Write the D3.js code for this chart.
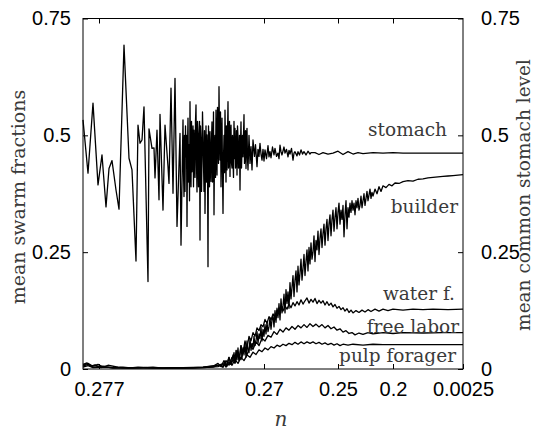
<!DOCTYPE html>
<html>
<head>
<meta charset="utf-8">
<script src="https://cdn.jsdelivr.net/npm/d3@7"></script>
<style>
  html, body { margin: 0; padding: 0; background: #fff; }
  svg { display: block; }
  .tick-num { font-family: "Liberation Sans", Arial, sans-serif; font-size: 20px; fill: #000; }
  .serif { font-family: "DejaVu Serif", serif; fill: #3a3a3a; }
</style>
</head>
<body>
<div id="chart"></div>
<script>
// x is the sample step (0..380), the axis labels give the value of n at chosen steps
const xTickSteps = [16, 181, 255, 310, 380];
const xTickLabels = ['0.277', '0.27', '0.25', '0.2', '0.0025'];
const yTicks = [0, 0.25, 0.5, 0.75];

const stomach = [
  [0,0.533],[5,0.419],[10,0.569],[15,0.394],[19,0.458],[23,0.347],[26,0.429],[29,0.446],
  [33,0.383],[36,0.342],[41,0.693],[46,0.451],[49,0.426],[53,0.231],[55,0.522],[57,0.483],
  [59,0.49],[61,0.561],[65,0.187],[66,0.514],[69,0.472],[71,0.473],[72,0.409],[74,0.511],
  [76,0.362],[77,0.545],[80,0.34],[82,0.522],[85,0.433],[86,0.397],[88,0.601],[90,0.376],
  [92,0.622],[94,0.305],[95,0.369],[97,0.504],[98,0.265],[100,0.533],[100.5,0.42],[101,0.369],
  [101.5,0.5],[102,0.38],[102.5,0.52],[103,0.454],[103.5,0.5],[104,0.305],[104.5,0.47],[105,0.537],
  [105.5,0.4],[106,0.48],[106.5,0.36],[107,0.572],[107.5,0.45],[108,0.39],[108.5,0.53],[109,0.422],
  [109.5,0.48],[110,0.52],[110.5,0.39],[111,0.511],[111.5,0.46],[112,0.41],[112.5,0.53],[113,0.565],
  [113.5,0.44],[114,0.379],[114.5,0.53],[115,0.5],[115.5,0.39],[116,0.476],[116.5,0.53],[117,0.276],
  [117.5,0.52],[118,0.49],[118.5,0.38],[119,0.447],[119.5,0.55],[120,0.497],[120.5,0.44],[121,0.38],
  [121.5,0.51],[122,0.333],[122.5,0.45],[123,0.52],[123.5,0.4],[124,0.501],[124.5,0.46],[125,0.219],
  [125.5,0.52],[126,0.47],[126.5,0.39],[127,0.508],[127.5,0.44],[128,0.401],[128.5,0.49],[129,0.529],
  [129.5,0.4],[130,0.42],[130.5,0.55],[131,0.33],[131.5,0.46],[132,0.5],[132.5,0.41],[133,0.554],
  [133.5,0.46],[134,0.415],[134.5,0.56],[135,0.52],[135.5,0.44],[136,0.604],[136.5,0.5],[137,0.447],
  [137.5,0.55],[138,0.39],[138.5,0.48],[139,0.537],[139.5,0.42],[140,0.333],[140.5,0.45],[141,0.5],
  [141.5,0.42],[142,0.554],[142.5,0.48],[143,0.4],[143.5,0.52],[144,0.426],[144.5,0.5],[145,0.572],
  [145.5,0.43],[146,0.45],[146.5,0.53],[147,0.412],[147.5,0.5],[148,0.522],[148.5,0.44],[149,0.43],
  [149.5,0.5],[150,0.447],[150.5,0.41],[151,0.53],[151.5,0.45],[152,0.515],[152.5,0.43],[153,0.44],
  [153.5,0.51],[154,0.415],[154.5,0.52],[155,0.497],[155.5,0.43],[156,0.45],[156.5,0.5],[157,0.383],
  [157.5,0.48],[158,0.529],[158.5,0.43],[159,0.47],[159.5,0.5],[160,0.454],[160.5,0.5],[161,0.544],
  [161.5,0.44],[162,0.46],[162.5,0.51],[163,0.429],[163.5,0.5],[164,0.515],[164.5,0.45],[165,0.426],
  [166,0.5],[167,0.44],[168,0.476],[169,0.426],[170,0.49],[171.5,0.455],[172.5,0.48],[174,0.433],
  [175,0.47],[176,0.455],[177,0.483],[178,0.46],[179,0.447],[180,0.47],[181,0.445],[182,0.469],
  [183.5,0.45],[185,0.478],[186,0.454],[187,0.465],[188,0.452],[189.5,0.475],[191,0.458],[192,0.472],
  [193.5,0.455],[195,0.462],[196,0.45],[197,0.479],[198,0.465],[199,0.458],[201,0.475],[202,0.462],
  [203.5,0.47],[205,0.454],[206,0.468],[207,0.46],[208.5,0.472],[210,0.447],[211,0.462],[212,0.465],
  [214,0.456],[215,0.465],[216.5,0.458],[218,0.469],[219.5,0.46],[221,0.465],[223,0.458],[225,0.466],
  [227,0.46],[228,0.463],[232,0.463],[236,0.459],[240,0.463],[245,0.46],[250,0.462],[255,0.466],
  [260,0.459],[265,0.465],[270,0.46],[275,0.463],[280,0.461],[290,0.463],[300,0.462],[310,0.463],
  [320,0.462],[340,0.462],[360,0.462],[380,0.462]
];

// builder: near zero, then a noisy rise sampled every step from 150 to 289, then a calmer tail
const builderHead = [
  [0,0.008],[5,0.012],[10,0.006],[15,0.01],[20,0.004],[30,0.003],[40,0.004],[50,0.002],
  [60,0.003],[70,0.004],[80,0.002],[90,0.003],[100,0.002],[110,0.003],[120,0.004],[130,0.006],
  [135,0.012],[138,0.005],[141,0.018],[143,0.006],[146,0.025],[148,0.01]
];
const builderNoisyStart = 150;
const builderNoisy = [
  0.02,0.035,0.015,0.04,0.02,0.045,0.018,0.03,0.05,0.025,
  0.045,0.03,0.055,0.025,0.06,0.04,0.035,0.065,0.04,0.055,
  0.045,0.07,0.05,0.06,0.08,0.055,0.075,0.065,0.09,0.06,
  0.085,0.07,0.095,0.075,0.1,0.08,0.09,0.11,0.085,0.105,
  0.115,0.09,0.125,0.1,0.13,0.11,0.14,0.105,0.15,0.12,
  0.135,0.16,0.12,0.17,0.14,0.165,0.13,0.185,0.15,0.175,
  0.2,0.155,0.19,0.21,0.165,0.22,0.18,0.205,0.235,0.19,
  0.215,0.245,0.2,0.23,0.255,0.21,0.26,0.225,0.27,0.235,
  0.25,0.285,0.23,0.275,0.255,0.295,0.245,0.28,0.3,0.26,
  0.29,0.31,0.265,0.3,0.32,0.275,0.31,0.33,0.285,0.32,
  0.34,0.295,0.325,0.345,0.3,0.335,0.355,0.31,0.34,0.32,
  0.35,0.283,0.33,0.36,0.3,0.345,0.325,0.355,0.335,0.36,
  0.34,0.355,0.33,0.36,0.345,0.365,0.34,0.35,0.37,0.345,
  0.36,0.375,0.35,0.365,0.38,0.36,0.372,0.385,0.365,0.378
];
const builderTail = [
  [290,0.37],[292,0.385],[294,0.375],[296,0.39],[298,0.38],[300,0.392],[303,0.388],[306,0.395],
  [309,0.392],[312,0.398],[316,0.397],[320,0.401],[325,0.403],[330,0.402],[335,0.406],[340,0.407],
  [345,0.409],[350,0.41],[355,0.411],[360,0.412],[365,0.413],[370,0.414],[375,0.415],[380,0.416]
];

const waterForager = [
  [0,0.01],[4,0.013],[8,0.006],[12,0.009],[18,0.003],[25,0.008],[35,0.004],[45,0.002],
  [55,0.004],[65,0.003],[80,0.002],[100,0.003],[120,0.004],[135,0.008],[140,0.004],[142,0.015],
  [144,0.006],[146,0.025],[148,0.01],[150,0.03],[152,0.015],[154,0.04],[156,0.02],[158,0.05],
  [160,0.035],[162,0.06],[164,0.045],[166,0.07],[168,0.06],[170,0.078],[172,0.07],[174,0.088],
  [176,0.082],[178,0.095],[180,0.09],[182,0.106],[184,0.098],[186,0.112],[188,0.105],[190,0.118],
  [192,0.112],[194,0.126],[196,0.118],[198,0.131],[200,0.124],[202,0.135],[204,0.128],[206,0.139],
  [208,0.131],[210,0.142],[212,0.135],[214,0.144],[216,0.137],[218,0.148],[220,0.139],[222,0.146],
  [224,0.152],[226,0.141],[228,0.149],[230,0.143],[232,0.151],[234,0.14],[236,0.147],[238,0.141],
  [240,0.146],[242,0.137],[244,0.144],[246,0.136],[248,0.141],[250,0.133],[252,0.138],[254,0.13],
  [256,0.134],[258,0.127],[260,0.131],[262,0.124],[264,0.129],[266,0.121],[268,0.126],[270,0.12],
  [273,0.125],[276,0.121],[279,0.126],[282,0.122],[285,0.127],[288,0.123],[292,0.128],[296,0.124],
  [300,0.128],[305,0.125],[310,0.128],[320,0.126],[330,0.128],[340,0.127],[350,0.128],[365,0.127],
  [380,0.128]
];

const freeLabor = [
  [0,0.006],[5,0.01],[10,0.004],[20,0.006],[30,0.002],[50,0.003],[70,0.002],[90,0.003],
  [110,0.002],[130,0.004],[138,0.01],[140,0.004],[143,0.018],[146,0.008],[149,0.025],[152,0.012],
  [155,0.035],[158,0.02],[161,0.045],[164,0.03],[167,0.05],[170,0.042],[173,0.058],[176,0.05],
  [179,0.066],[182,0.06],[185,0.072],[188,0.068],[191,0.08],[194,0.074],[197,0.085],[200,0.079],
  [203,0.088],[206,0.083],[209,0.091],[212,0.085],[215,0.093],[218,0.088],[221,0.095],[224,0.089],
  [227,0.097],[230,0.091],[233,0.096],[236,0.09],[239,0.095],[242,0.088],[245,0.093],[248,0.086],
  [251,0.09],[254,0.083],[257,0.086],[260,0.079],[263,0.082],[266,0.076],[269,0.078],[272,0.073],
  [276,0.077],[280,0.074],[285,0.078],[290,0.075],[300,0.078],[310,0.076],[320,0.078],[340,0.077],
  [360,0.078],[380,0.078]
];

const pulpForager = [
  [0,0.004],[5,0.007],[10,0.003],[20,0.004],[40,0.002],[60,0.003],[80,0.002],[100,0.002],
  [120,0.003],[135,0.005],[140,0.012],[143,0.004],[146,0.015],[149,0.008],[152,0.02],[155,0.012],
  [158,0.025],[161,0.018],[164,0.03],[167,0.025],[170,0.036],[173,0.031],[176,0.041],[179,0.037],
  [182,0.045],[185,0.041],[188,0.048],[191,0.045],[194,0.051],[197,0.048],[200,0.053],[203,0.05],
  [206,0.055],[209,0.052],[212,0.057],[215,0.053],[218,0.058],[221,0.054],[224,0.058],[227,0.055],
  [230,0.058],[233,0.054],[236,0.057],[239,0.053],[242,0.056],[245,0.052],[248,0.055],[251,0.051],
  [254,0.054],[257,0.05],[260,0.053],[265,0.051],[270,0.053],[280,0.051],[290,0.053],[300,0.052],
  [320,0.052],[340,0.052],[360,0.052],[380,0.052]
];

const builder = builderHead
  .concat(builderNoisy.map((v, i) => [builderNoisyStart + i, v]))
  .concat(builderTail);

const seriesList = [
  { name: 'stomach', data: stomach },
  { name: 'builder', data: builder },
  { name: 'water f.', data: waterForager },
  { name: 'free labor', data: freeLabor },
  { name: 'pulp forager', data: pulpForager }
];

const width = 535, height = 432;
const margin = { top: 18.5, right: 72, bottom: 63, left: 83 };
const innerW = width - margin.left - margin.right;
const innerH = height - margin.top - margin.bottom;

const svg = d3.select('#chart').append('svg')
  .attr('width', width)
  .attr('height', height);

const g = svg.append('g')
  .attr('transform', `translate(${margin.left},${margin.top})`);

const x = d3.scaleLinear().domain([0, 380]).range([0, innerW]);
const y = d3.scaleLinear().domain([0, 0.75]).range([innerH, 0]);

// curves
const line = d3.line().x(d => x(d[0])).y(d => y(d[1]));
g.append('g').selectAll('path')
  .data(seriesList)
  .enter().append('path')
  .attr('d', d => line(d.data))
  .attr('fill', 'none')
  .attr('stroke', '#000')
  .attr('stroke-width', 1.3)
  .attr('stroke-linejoin', 'round');

// axes: ticks point inward, mirrored on top / right
const fmtY = d => (d === 0 ? '0' : String(d));
const bottomAxis = d3.axisBottom(x).tickValues(xTickSteps)
  .tickFormat((d, i) => xTickLabels[i]).tickSizeInner(-5).tickSizeOuter(0).tickPadding(13);
const topAxis = d3.axisTop(x).tickValues(xTickSteps.slice(0, 4))
  .tickFormat('').tickSizeInner(-5).tickSizeOuter(0);
const leftAxis = d3.axisLeft(y).tickValues(yTicks).tickFormat(fmtY)
  .tickSizeInner(-5).tickSizeOuter(0).tickPadding(12);
const rightAxis = d3.axisRight(y).tickValues(yTicks).tickFormat(fmtY)
  .tickSizeInner(-5).tickSizeOuter(0).tickPadding(18);

function styleAxis(sel) {
  sel.select('.domain').remove();
  sel.selectAll('line').attr('stroke', '#000').attr('stroke-width', 1);
  sel.selectAll('text').attr('class', 'tick-num').attr('fill', '#000');
}

g.append('g').attr('transform', `translate(0,${innerH})`).call(bottomAxis).call(styleAxis);
g.append('g').call(topAxis).call(styleAxis);
g.append('g').call(leftAxis).call(styleAxis);
g.append('g').attr('transform', `translate(${innerW},0)`).call(rightAxis).call(styleAxis);

// frame
g.append('rect')
  .attr('width', innerW).attr('height', innerH)
  .attr('fill', 'none').attr('stroke', '#000').attr('stroke-width', 1);

// curve labels
const labelPos = {
  'stomach': [447, 136],
  'builder': [458, 213],
  'water f.': [455, 300],
  'free labor': [459, 333],
  'pulp forager': [456, 361.5]
};
svg.append('g').selectAll('text')
  .data(seriesList)
  .enter().append('text')
  .attr('class', 'serif')
  .attr('x', d => labelPos[d.name][0])
  .attr('y', d => labelPos[d.name][1])
  .attr('text-anchor', 'end')
  .style('font-size', '18.5px')
  .text(d => d.name);

// axis titles
svg.append('text')
  .attr('class', 'serif')
  .attr('transform', 'translate(25,197) rotate(-90)')
  .attr('text-anchor', 'middle')
  .style('font-size', '19px')
  .text('mean swarm fractions');

svg.append('text')
  .attr('class', 'serif')
  .attr('transform', 'translate(530,195) rotate(-90)')
  .attr('text-anchor', 'middle')
  .style('font-size', '18.5px')
  .text('mean common stomach level');

svg.append('text')
  .attr('class', 'serif')
  .attr('x', 281).attr('y', 426)
  .attr('text-anchor', 'middle')
  .style('font-size', '20px')
  .style('font-style', 'italic')
  .text('n');
</script>
</body>
</html>
